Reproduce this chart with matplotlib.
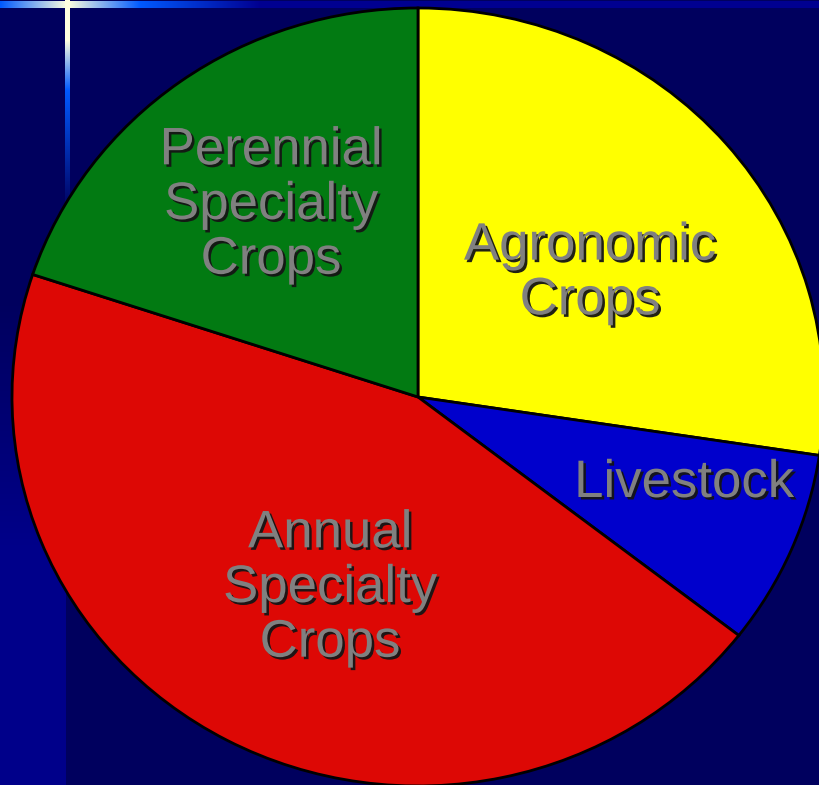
import numpy as np
import matplotlib
matplotlib.use("Agg")
import matplotlib.pyplot as plt
import matplotlib.patheffects as pe

# ---- data ----
categories = ["Agronomic\nCrops", "Livestock", "Annual\nSpecialty\nCrops", "Perennial\nSpecialty\nCrops"]
shares = [27.4, 8.1, 44.6, 19.9]
colors = ["#FFFF00", "#0000CC", "#DD0805", "#027A12"]
label_pos = [(590, 273), (684, 483), (330, 588), (271, 205)]  # pixel centers

W, H = 819, 785
fig = plt.figure(figsize=(W / 100, H / 100), dpi=100)

# ---- background ----
bg = fig.add_axes([0, 0, 1, 1])
bg.set_xlim(0, W)
bg.set_ylim(H, 0)
bg.axis("off")

img = np.zeros((H, W, 3))
navy = np.array([0x00, 0x00, 0x5E]) / 255
img[:, :] = navy
# left band gradient (lighter toward bottom)
band = np.array([0x00, 0x00, 0x8A]) / 255
ys = np.arange(H)
t = np.clip((ys - 300) / 250, 0, 1)[:, None]
img[:, :66] = (navy[None, :] * (1 - t) + band[None, :] * t)[:, None, :]
# top strip
xs = np.arange(W)
strip_base = np.array([0x00, 0x00, 0x90]) / 255
white = np.array([1.0, 1.0, 0.88])
brightblue = np.array([0.0, 0.35, 1.0])
strip = np.tile(strip_base, (W, 1))
for x in xs:
    if x < 67:
        a = x / 67
        c = brightblue * (1 - a) + white * a
    elif x < 140:
        a = (x - 67) / 73
        c = white * (1 - a) + brightblue * a
    elif x < 260:
        a = (x - 140) / 120
        c = brightblue * (1 - a) + strip_base * a
    else:
        c = strip_base
    strip[x] = c
img[1:8, :] = strip[None, :, :]
# vertical glow line
for y in range(0, 210):
    if y < 40:
        c = white
    elif y < 90:
        a = (y - 40) / 50
        c = white * (1 - a) + brightblue * a
    else:
        a = (y - 90) / 120
        c = brightblue * (1 - a) + navy * a
    img[y, 65:70] = c
bg.imshow(img, extent=(0, W, H, 0), aspect="auto", interpolation="bilinear")

# ---- pie (slightly elliptical) ----
cx, cy, rx, ry = 418, 397, 406, 389
ax = fig.add_axes([(cx - rx) / W, (H - cy - ry) / H, 2 * rx / W, 2 * ry / H])
ax.pie(shares, colors=colors, startangle=90, counterclock=False, radius=1,
       wedgeprops=dict(edgecolor="black", linewidth=2.0))
ax.set_aspect("auto")
ax.set_xlim(-1, 1)
ax.set_ylim(-1, 1)
ax.axis("off")

# ---- labels ----
tx = fig.add_axes([0, 0, 1, 1], zorder=10)
tx.set_xlim(0, W)
tx.set_ylim(H, 0)
tx.axis("off")
tx.patch.set_alpha(0)
shadow = [pe.SimplePatchShadow(offset=(1.8, -1.8), shadow_rgbFace="#151515", alpha=0.95), pe.Normal()]
for lab, (px, py) in zip(categories, label_pos):
    tx.text(px, py, lab, ha="center", va="center", fontsize=38, color="#808080",
            family="Liberation Sans", linespacing=1.12, multialignment="center",
            path_effects=shadow)

fig.savefig("out.png", dpi=100)
